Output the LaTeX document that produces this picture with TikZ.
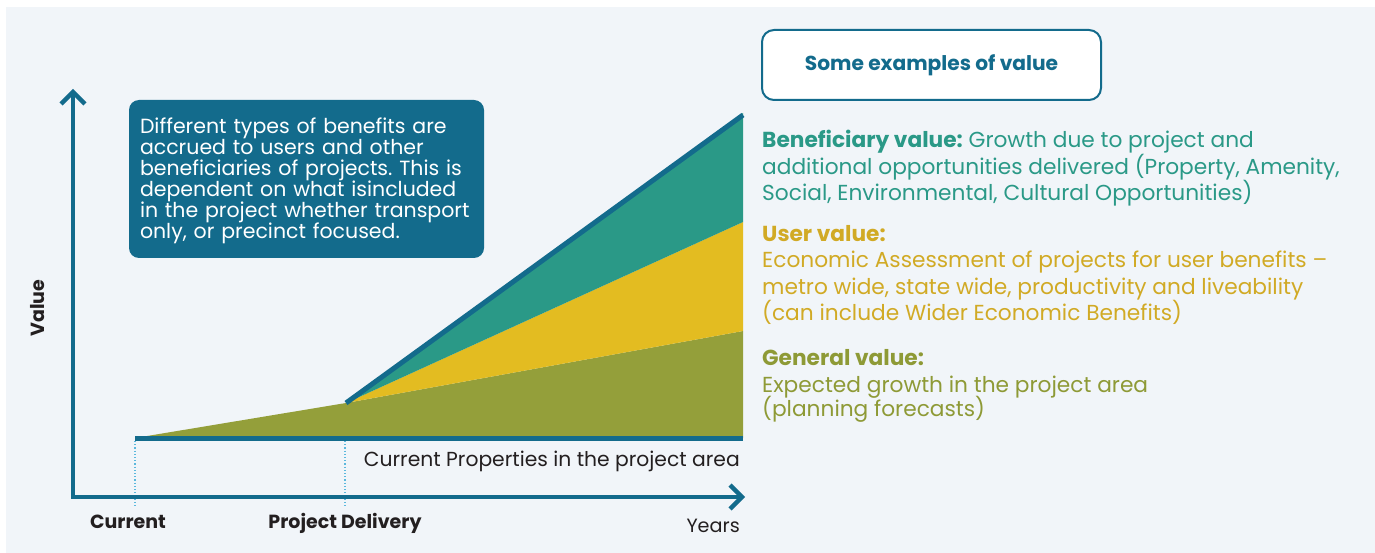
\documentclass[tikz,border=0pt]{standalone}
\usepackage{fontspec}
\setmainfont{Poppins}
\frenchspacing
\definecolor{bgc}{HTML}{F1F5F9}
\definecolor{darkblue}{HTML}{136B8C}
\definecolor{tealc}{HTML}{2A9987}
\definecolor{yellowc}{HTML}{E3BC21}
\definecolor{olivec}{HTML}{949F3A}
\definecolor{goldtext}{HTML}{D1AA25}
\definecolor{olivetext}{HTML}{8E9A36}
\definecolor{graytext}{HTML}{231F20}
\definecolor{dotc}{HTML}{5BB8DD}
\tikzset{
  axisline/.style={darkblue, line width=4.5pt, line join=miter},
  barline/.style={darkblue, line width=5pt},
  guide/.style={dotc, dotted, line width=1.2pt},
  rtext/.style={anchor=base west, inner sep=0pt, font=\fontsize{21.7}{26}\selectfont},
  axlabel/.style={inner sep=0pt, text=graytext, font=\fontsize{20.3}{22}\selectfont},
  axbold/.style={inner sep=0pt, text=graytext, font=\bfseries\fontsize{19}{22}\selectfont},
}
\begin{document}
\begin{tikzpicture}[x=1pt,y=-1pt]
\useasboundingbox (0,0) rectangle (1375,553);
\fill[bgc] (6,7) rectangle (1375,553);
% key points
\coordinate (c0) at (135,438);
\coordinate (k) at (346,403);
\coordinate (tT) at (743,113);
\coordinate (tY) at (743,222);
\coordinate (tO) at (743,331);
\coordinate (tB) at (743,438);
% areas
\fill[olivec] (c0) -- (k) -- (tO) -- (tB) -- cycle;
\fill[yellowc] (k) -- (tY) -- (tO) -- cycle;
\fill[tealc] (k) -- (tT) -- (tY) -- cycle;
\draw[barline] (k) -- (743,115);
\draw[barline] (c0) -- (tB);
% guides
\coordinate (g1a) at (135,441); \coordinate (g1b) at (135,506);
\coordinate (g2a) at (345,441); \coordinate (g2b) at (345,506);
\draw[guide] (g1a) -- (g1b);
\draw[guide] (g2a) -- (g2b);
% axes
\coordinate (ytop) at (73,92);
\coordinate (org) at (73,497);
\coordinate (xend) at (742,497);
\draw[axisline] (ytop) -- (org) -- (xend);
\draw[axisline] (61,104) -- (ytop) -- (85,104);
\draw[axisline] (730,485) -- (xend) -- (730,509);
% callout
\node[fill=darkblue, rounded corners=10pt, minimum width=355pt, minimum height=158pt] (callout) at (306.5,179) {};
\node[anchor=west, text width=333pt, align=left, text=white, inner sep=0pt,
      font=\fontsize{20.5}{21}\selectfont] (calltext) at ([xshift=11pt,yshift=-2pt]callout.west)
  {Different types of benefits are\\accrued to users and other\\beneficiaries of projects. This is\\dependent on what isincluded\\in the project whether transport\\only, or precinct focused.};
% examples box
\node[draw=darkblue, line width=2pt, fill=white, rounded corners=12pt, minimum width=339pt,
      minimum height=70pt, text=darkblue, font=\bfseries\fontsize{20.2}{22}\selectfont] (ex) at (931.5,65)
  {Some examples of value};
% right texts
\node[rtext, text=tealc] (b1) at (762,148) {\textbf{Beneficiary value:} Growth due to project and};
\node[rtext, text=tealc] (b2) at (762,175) {additional opportunities delivered (Property, Amenity,};
\node[rtext, text=tealc] (b3) at (762,201) {Social, Environmental, Cultural Opportunities)};
\node[rtext, text=goldtext] (u1) at (762,242) {\textbf{User value:}};
\node[rtext, text=goldtext] (u2) at (762,268) {Economic Assessment of projects for user benefits –};
\node[rtext, text=goldtext] (u3) at (762,294) {metro wide, state wide, productivity and liveability};
\node[rtext, text=goldtext] (u4) at (762,320) {(can include Wider Economic Benefits)};
\node[rtext, text=olivetext] (o1) at (762,365) {\textbf{General value:}};
\node[rtext, text=olivetext] (o2) at (762,392) {Expected growth in the project area};
\node[rtext, text=olivetext] (o3) at (762,416) {(planning forecasts)};
% axis labels
\node[axlabel, anchor=base east] (cp) at (740,466) {Current Properties in the project area};
\node[axbold, anchor=base] (cur) at (128,528) {Current};
\node[axbold, anchor=base] (pd) at (345,528) {Project Delivery};
\node[axlabel, anchor=base east, font=\fontsize{19.2}{22}\selectfont] (yr) at (740,532) {Years};
\node[axbold, rotate=90] (val) at (38,308) {Value};
\end{tikzpicture}
\end{document}
